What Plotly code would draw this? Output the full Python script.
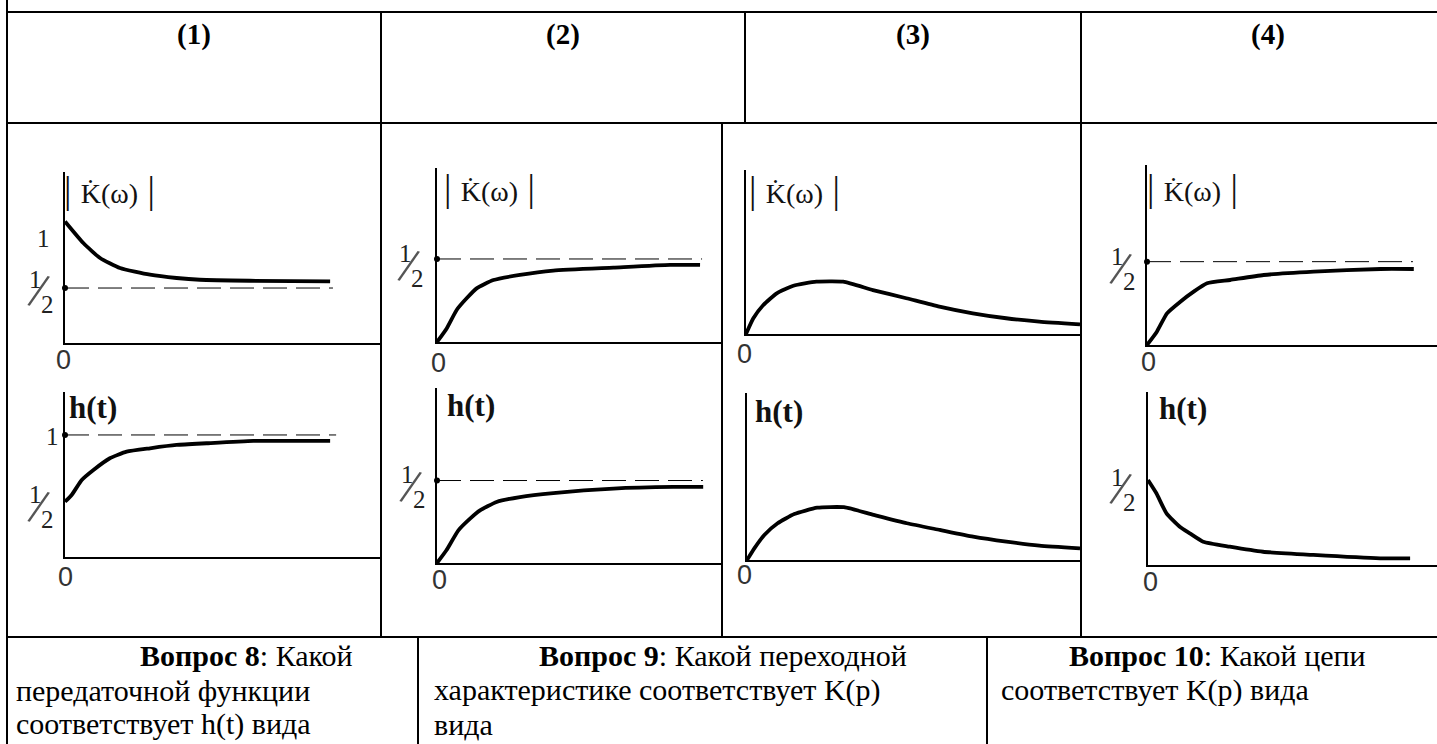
import plotly.graph_objects as go

W, H = 1437, 744

# curves: x runs 0..10 along each axis, y in the units of the axis marks
k1_x = [0, 0.58, 1.11, 1.74, 2.69, 3.53, 4.27, 5.85, 8.39]
k1_y = [1.105, 0.909, 0.773, 0.682, 0.621, 0.591, 0.575, 0.566, 0.56]
h1_x = [0, 0.21, 0.53, 0.9, 1.42, 1.95, 2.69, 3.53, 4.48, 5.96, 8.39]
h1_y = [0.453, 0.508, 0.631, 0.713, 0.809, 0.863, 0.891, 0.918, 0.932, 0.951, 0.951]
k2_x = [0, 0.34, 0.69, 1.04, 1.39, 1.98, 2.91, 4.08, 6.19, 8.18, 9.23]
k2_y = [0.0, 0.082, 0.193, 0.263, 0.323, 0.373, 0.404, 0.43, 0.448, 0.464, 0.464]
h2_x = [0, 0.33, 0.75, 1.16, 1.51, 2.09, 2.91, 4.08, 6.19, 8.29, 9.34]
h2_y = [0.0, 0.077, 0.198, 0.269, 0.319, 0.37, 0.4, 0.424, 0.451, 0.461, 0.461]
k3_x = [0, 0.22, 0.52, 0.92, 1.42, 2.11, 2.91, 3.8, 4.8, 5.79, 6.79, 7.79, 8.78, 10.0]
k3_y = [0.0, 0.096, 0.177, 0.248, 0.294, 0.319, 0.319, 0.268, 0.218, 0.167, 0.126, 0.096, 0.076, 0.059]
h3_x = [0, 0.22, 0.52, 0.92, 1.42, 2.11, 2.91, 3.8, 4.8, 5.79, 6.79, 7.79, 8.78, 10.0]
h3_y = [0.0, 0.07, 0.15, 0.22, 0.275, 0.313, 0.316, 0.27, 0.22, 0.18, 0.14, 0.11, 0.086, 0.07]
k4_x = [0, 0.34, 0.69, 1.15, 1.61, 2.07, 2.87, 4.02, 5.75, 8.05, 9.2]
k4_y = [0.0, 0.08, 0.19, 0.26, 0.32, 0.37, 0.39, 0.42, 0.44, 0.456, 0.456]
h4_x = [0, 0.29, 0.64, 1.1, 1.45, 1.91, 2.83, 3.98, 5.72, 8.03, 9.07]
h4_y = [0.5, 0.422, 0.304, 0.225, 0.186, 0.137, 0.108, 0.078, 0.059, 0.039, 0.039]

# dashed asymptotes: (level, end of dash)
k1_dash = (0.5, 8.48)
h1_dash = (1.0, 8.58)
k2_dash = (0.5, 9.3)
h2_dash = (0.5, 9.33)
k4_dash = (0.5, 9.17)

col_labels = ['(1)', '(2)', '(3)', '(4)']

# panel layout in pixels: axis origin x, axis end x, x-axis y, top of y-axis, y range top
panels = [
    dict(x=k1_x, y=k1_y, dash=k1_dash, kind='K', g=(65, 381, 343, 172, 1.555),
         lab=(-3, -18), zero=(-2, -17), half=(-26, -2), one=(-22, -5)),
    dict(x=h1_x, y=h1_y, dash=h1_dash, kind='h', g=(65, 381, 557, 392, 1.352),
         lab=(2, -15), zero=(0, -20), half=(-26, -10), one=(-13, -2)),
    dict(x=k2_x, y=k2_y, dash=k2_dash, kind='K', g=(437, 722, 342, 168, 1.048),
         lab=(5, -20), zero=(1, -21), half=(-28, -6)),
    dict(x=h2_x, y=h2_y, dash=h2_dash, kind='h', g=(437, 722, 563, 388, 1.061),
         lab=(8, -17), zero=(2, -17), half=(-26, -5)),
    dict(x=k3_x, y=k3_y, dash=None, kind='K', g=(746, 1080, 334, 170, 1.0),
         lab=(1, -20), zero=(-2, -20)),
    dict(x=h3_x, y=h3_y, dash=None, kind='h', g=(747, 1080, 560, 393, 1.0),
         lab=(6, -18), zero=(-2, -15)),
    dict(x=k4_x, y=k4_y, dash=k4_dash, kind='K', g=(1147, 1437, 345, 165, 1.08),
         lab=(-2, -23), zero=(1, -17), half=(-26, -6)),
    dict(x=h4_x, y=h4_y, dash=None, kind='h', g=(1148, 1437, 565, 392, 1.018),
         lab=(9, -16), zero=(2, -17), half=(-27, -8)),
]

SERIF = 'Liberation Serif, Times New Roman, serif'
NARROW = 'Liberation Sans Narrow, Arial Narrow, Liberation Sans, sans-serif'

fig = go.Figure()
annotations = []
axes = {}

for i, p in enumerate(panels):
    n = '' if i == 0 else str(i + 1)
    xr, yr = 'x' + n, 'y' + n
    x0, x1, yb, yt, ytop = p['g']
    axis_style = dict(showline=True, linecolor='black', linewidth=1.5, showgrid=False,
                      zeroline=False, showticklabels=False, ticks='', fixedrange=True)
    axes['xaxis' + n] = dict(domain=[x0 / W, x1 / W], range=[0, 10], anchor=yr, **axis_style)
    axes['yaxis' + n] = dict(domain=[1 - yb / H, 1 - yt / H], range=[0, ytop], anchor=xr, **axis_style)

    # dashed level + dot on the axis
    if p['dash']:
        lev, end = p['dash']
        fig.add_trace(go.Scatter(x=[0, end], y=[lev, lev], mode='lines', xaxis=xr, yaxis=yr,
                                 line=dict(color='black', width=1, dash='24px,9px'),
                                 hoverinfo='skip'))
        fig.add_trace(go.Scatter(x=[0], y=[lev], mode='markers', xaxis=xr, yaxis=yr,
                                 marker=dict(color='black', size=6), cliponaxis=False,
                                 hoverinfo='skip'))

    # the curve itself
    fig.add_trace(go.Scatter(x=p['x'], y=p['y'], mode='lines', xaxis=xr, yaxis=yr,
                             line=dict(color='black', width=3.8, shape='spline', smoothing=0.5),
                             hoverinfo='skip'))

    # axis title
    if p['kind'] == 'K':
        bar = '<span style="font-size:37px">|</span>'
        txt = bar + '\u2004K\u0307(\u03c9)\u2004' + bar
        fsize = 28
    else:
        txt = '<b>h(t)</b>'
        fsize = 31
    annotations.append(dict(text=txt, xref=xr + ' domain', yref=yr + ' domain', x=0, y=1,
                            xanchor='left', yanchor='middle', showarrow=False,
                            xshift=p['lab'][0], yshift=p['lab'][1],
                            font=dict(family=SERIF, size=fsize, color='#111')))
    # "0" under origin
    annotations.append(dict(text='0', xref=xr, yref=yr, x=0, y=0, showarrow=False,
                            xanchor='center', yanchor='middle',
                            xshift=p['zero'][0], yshift=p['zero'][1],
                            font=dict(family=NARROW, size=27, color='#333')))
    # "1/2" mark
    if 'half' in p:
        hx, hy = p['half']
        for t, dx, dy, fs, ang in [('1', -4, 11, 25, 0), ('2', 8, -14, 25, 0), ('/', 0, 0, 50, 16)]:
            annotations.append(dict(text=t, xref=xr, yref=yr, x=0, y=0.5, showarrow=False,
                                    xanchor='center', yanchor='middle', textangle=ang,
                                    xshift=hx + dx, yshift=hy + dy,
                                    font=dict(family=SERIF, size=fs,
                                              color='#555' if t == '/' else '#222')))
    # "1" mark
    if 'one' in p:
        annotations.append(dict(text='1', xref=xr, yref=yr, x=0, y=1, showarrow=False,
                                xanchor='center', yanchor='middle',
                                xshift=p['one'][0], yshift=p['one'][1],
                                font=dict(family=SERIF, size=25, color='#222')))

# header row labels
header_centres = [194, 563, 913, 1268]
for lab, cx in zip(col_labels, header_centres):
    annotations.append(dict(text=f'<b>{lab}</b>', xref='paper', yref='paper', x=cx / W, y=1 - 35 / H,
                            xanchor='center', yanchor='middle', showarrow=False,
                            font=dict(family=SERIF, size=29, color='black')))

# question texts in the bottom row
question_lines = [
    ('<b>Вопрос 8</b>: Какой', 138, 655),
    ('передаточной функции', 14, 690),
    ('соответствует h(t) вида', 14, 724),
    ('<b>Вопрос 9</b>: Какой переходной', 537, 655),
    ('характеристике соответствует K(p)', 432, 690),
    ('вида', 432, 724),
    ('<b>Вопрос 10</b>: Какой цепи', 1067, 655),
    ('соответствует K(p) вида', 999, 690),
]
for txt, lx, ly in question_lines:
    annotations.append(dict(text=txt, xref='paper', yref='paper', x=lx / W, y=1 - ly / H,
                            xanchor='left', yanchor='middle', showarrow=False,
                            font=dict(family=SERIF, size=30, color='black')))

# table rules
rules = [
    (7, 0, 7, 744), (7, 12, 1437, 12), (7, 123, 1437, 123),
    (381, 12, 381, 637), (745, 12, 745, 123), (1081, 12, 1081, 637),
    (722, 123, 722, 637), (7, 637, 1437, 637),
    (418, 637, 418, 744), (987, 637, 987, 744),
]
shapes = [dict(type='line', xref='paper', yref='paper', x0=a / W, y0=1 - b / H, x1=c / W, y1=1 - d / H,
               line=dict(color='black', width=2)) for a, b, c, d in rules]

fig.update_layout(axes)
fig.update_layout(
    width=W, height=H, margin=dict(l=0, r=0, t=0, b=0),
    paper_bgcolor='white', plot_bgcolor='rgba(0,0,0,0)',
    showlegend=False, annotations=annotations, shapes=shapes,
)

# drop the browser's default page margin so the figure sits at the window corner
fig.write_html('out.html', config={'displayModeBar': False},
               post_script="document.body.style.margin='0';document.body.style.overflow='hidden';")
